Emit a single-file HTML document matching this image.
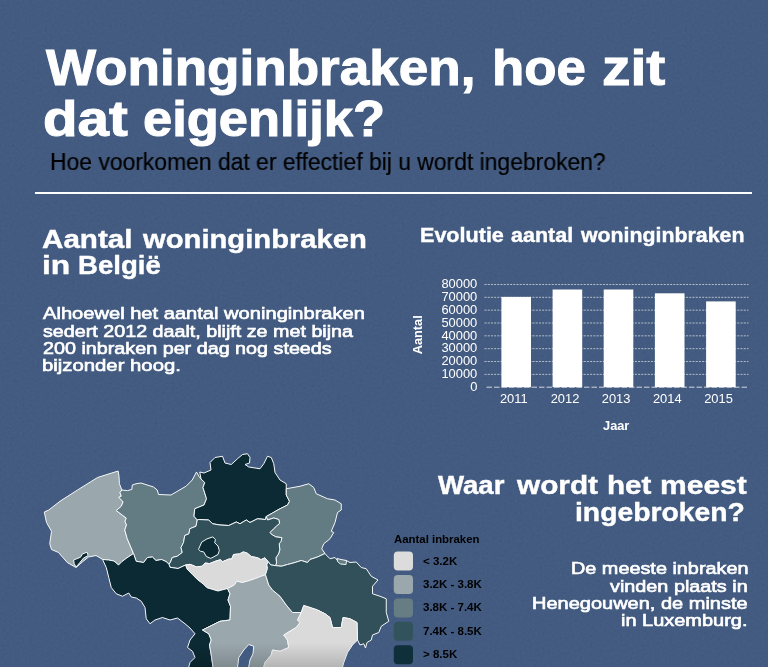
<!DOCTYPE html>
<html lang="nl"><head><meta charset="utf-8"><title>Woninginbraken</title>
<style>
html,body{margin:0;padding:0}
body{width:768px;height:667px;overflow:hidden;background:#38527a;position:relative;font-family:"Liberation Sans",sans-serif}
.t{position:absolute;white-space:nowrap;line-height:1;margin:0;font-weight:bold;color:#fff;transform-origin:0 0;will-change:transform}
#hr{position:absolute;left:35px;top:192px;width:716.5px;height:2px;background:#fff}
svg{position:absolute;left:0;top:0;will-change:transform}
.ax{font:12.9px "Liberation Sans",sans-serif;fill:#fff}
.axb{font:bold 12.8px "Liberation Sans",sans-serif;fill:#fff}
#x0{left:46.20px;top:43.05px;font-size:49.2px;-webkit-text-stroke:1px #fff;transform:scaleX(1.0788);}
#x1{left:491.53px;top:43.05px;font-size:49.2px;-webkit-text-stroke:1px #fff;transform:scaleX(1.0741);}
#x2{left:601.84px;top:43.05px;font-size:49.2px;-webkit-text-stroke:1px #fff;transform:scaleX(1.1594);}
#x3{left:43.20px;top:93.65px;font-size:49.2px;-webkit-text-stroke:1px #fff;transform:scaleX(1.1484);}
#x4{left:143.43px;top:93.65px;font-size:49.2px;-webkit-text-stroke:1px #fff;transform:scaleX(1.0667);}
#x5{left:50.23px;top:150.81px;font-size:23.5px;font-weight:normal;-webkit-text-stroke:0.2px #000;color:#000;transform:scaleX(0.9741);}
#x6{left:42.25px;top:226.66px;font-size:25.5px;-webkit-text-stroke:0.4px #fff;transform:scaleX(1.1614);}
#x7{left:143.40px;top:226.66px;font-size:25.5px;-webkit-text-stroke:0.4px #fff;transform:scaleX(1.1453);}
#x8{left:42.26px;top:253.01px;font-size:25.5px;-webkit-text-stroke:0.4px #fff;transform:scaleX(1.2447);}
#x9{left:77.92px;top:253.01px;font-size:25.5px;-webkit-text-stroke:0.4px #fff;transform:scaleX(1.0817);}
#x10{left:420.19px;top:224.57px;font-size:20.3px;-webkit-text-stroke:0.4px #fff;transform:scaleX(1.0630);}
#x11{left:510.50px;top:224.57px;font-size:20.3px;-webkit-text-stroke:0.4px #fff;transform:scaleX(1.0607);}
#x12{left:580.75px;top:224.57px;font-size:20.3px;-webkit-text-stroke:0.4px #fff;transform:scaleX(1.0509);}
#x13{left:42.75px;top:305.27px;font-size:17.4px;font-weight:normal;-webkit-text-stroke:0.65px #fff;transform:scaleX(1.1562);}
#x14{left:43.00px;top:322.52px;font-size:17.4px;font-weight:normal;-webkit-text-stroke:0.65px #fff;transform:scaleX(1.1332);}
#x15{left:42.75px;top:340.02px;font-size:17.4px;font-weight:normal;-webkit-text-stroke:0.65px #fff;transform:scaleX(1.1353);}
#x16{left:41.83px;top:357.02px;font-size:17.4px;font-weight:normal;-webkit-text-stroke:0.65px #fff;transform:scaleX(1.1679);}
#x17{left:438.00px;top:473.41px;font-size:25.5px;-webkit-text-stroke:0.4px #fff;transform:scaleX(1.0816);}
#x18{left:517.42px;top:473.41px;font-size:25.5px;-webkit-text-stroke:0.4px #fff;transform:scaleX(1.1670);}
#x19{left:607.24px;top:473.41px;font-size:25.5px;-webkit-text-stroke:0.4px #fff;transform:scaleX(1.1613);}
#x20{left:659.82px;top:473.41px;font-size:25.5px;-webkit-text-stroke:0.4px #fff;transform:scaleX(1.1780);}
#x21{left:574.99px;top:499.71px;font-size:25.5px;-webkit-text-stroke:0.4px #fff;transform:scaleX(1.1100);}
#x22{left:570.56px;top:560.47px;font-size:17.4px;font-weight:normal;-webkit-text-stroke:0.65px #fff;transform:scaleX(1.1406);}
#x23{left:610.40px;top:577.67px;font-size:17.4px;font-weight:normal;-webkit-text-stroke:0.65px #fff;transform:scaleX(1.1391);}
#x24{left:532.45px;top:595.17px;font-size:17.4px;font-weight:normal;-webkit-text-stroke:0.65px #fff;transform:scaleX(1.1497);}
#x25{left:621.45px;top:612.47px;font-size:17.4px;font-weight:normal;-webkit-text-stroke:0.65px #fff;transform:scaleX(1.1479);}
#x26{left:393.70px;top:533.95px;font-size:11.4px;color:#000;transform:scaleX(0.9954);}
#x27{left:423.20px;top:555.67px;font-size:11.5px;color:#000;}
#x28{left:423.20px;top:579.27px;font-size:11.5px;color:#000;}
#x29{left:423.20px;top:602.37px;font-size:11.5px;color:#000;}
#x30{left:423.20px;top:626.17px;font-size:11.5px;color:#000;}
#x31{left:423.20px;top:649.37px;font-size:11.5px;color:#000;}
</style></head><body>
<svg width="768" height="667" viewBox="0 0 768 667">
<defs><filter id="nz" x="0" y="0" width="100%" height="100%"><feTurbulence type="fractalNoise" baseFrequency="0.4" numOctaves="2" seed="7"/><feColorMatrix type="matrix" values="0.33 0.33 0.33 0 0 0.33 0.33 0.33 0 0 0.33 0.33 0.33 0 0 0 0 0 0 1"/></filter></defs>
<rect width="768" height="667" filter="url(#nz)" opacity="0.09"/>
<g id="map"><defs><clipPath id="mc"><path d="M102.5 559.4 L108.5 560 L114 561 L118.5 565 L122 561.5 L127 557.75 L133.5 553.5 L136.2 561.25 L143.6 562.5 L147.4 557.5 L152.4 557 L156 560.5 L161.5 559.5 L166 561.5 L169 564.3 L170 567.3 L178 568.5 L185.5 565 L187 569 L192.6 574.7 L197.8 579.9 L203 583.8 L206.9 587.7 L218 591 L227.5 588.5 L230 593.75 L228 600 L230.5 606.25 L230 620 L220 621.25 L210 626.25 L202.5 630 L208.75 633.75 L211.25 640 L209.5 645 L211.25 655 L213 667 L213.5 674 L188.5 674 L188.75 667 L190 662.5 L195 657.5 L192.5 651.25 L187.5 647.5 L190 640 L195 633.75 L190 628 L185 623.75 L177.5 618 L170 620 L162.5 617.5 L155 620 L150 623.75 L146.25 618.75 L145 607.5 L141.25 601.25 L136.25 598 L131.25 597 L128.75 593 L122.5 596.25 L116.25 593.75 L111.25 587.5 L108.75 577.5 L106.25 567.5Z"/><path d="M227.5 588.5 L229.1 587.7 L234.3 585.1 L236.9 581.2 L242.1 582.5 L247.3 581.2 L255.1 578.6 L260.3 576.6 L265.5 574.7 L268.75 585 L272.5 590 L280 596.25 L286.25 605 L292.5 612.5 L301.25 612.5 L297.5 620 L300 622.5 L296.25 627.5 L290 631.25 L283.75 635 L287.5 640 L288.75 647.5 L280 651.25 L272.5 650 L271.25 655 L265 662.5 L263.75 667 L263.5 674 L248.5 674 L248.75 667 L250 660 L253 653.75 L253.75 646.25 L248.75 644.5 L243.75 650 L238.75 657.5 L237.5 667 L237.3 674 L213.5 674 L213 667 L211.25 655 L209.5 645 L211.25 640 L208.75 633.75 L202.5 630 L210 626.25 L220 621.25 L230 620 L230.5 606.25 L228 600 L230 593.75Z"/><path d="M301.25 612.5 L303.75 605.5 L310 607.5 L317.5 610 L325 613.75 L330 617.5 L332.5 627.5 L341.25 627.5 L343 617.5 L350 618.75 L357 622.5 L357.5 640 L352.5 645 L347.5 652.5 L343.75 662.5 L342.5 667 L342 674 L263.5 674 L263.75 667 L265 662.5 L271.25 655 L272.5 650 L280 651.25 L288.75 647.5 L287.5 640 L283.75 635 L290 631.25 L296.25 627.5 L300 622.5 L297.5 620Z"/></clipPath><linearGradient id="fd" x1="0" y1="0" x2="0" y2="1"><stop offset="0" stop-color="#000" stop-opacity="0"/><stop offset="1" stop-color="#000" stop-opacity=".17"/></linearGradient></defs>
<g stroke="#f6f8f9" stroke-width="1" stroke-linejoin="round">
<path d="M102.5 559.4 L96 555.5 L88.5 557 L82.25 562 L76 567.5 L67.25 562.5 L58.5 552.5 L51.5 549.5 L49.75 543.75 L51.5 531.25 L46.5 522.5 L44.3 512 L48.75 510 L60 501.25 L77.5 490 L97.5 477.5 L118.1 471 L119 476.25 L119.4 483.75 L121.9 490 L120 492.5 L121.25 496.25 L118.75 497.25 L123.1 501.9 L121.25 506.25 L116.25 510.6 L126.25 518.1 L125 521.25 L126.5 525 L124.75 530 L127.25 538.75 L133.5 553.5 L127 557.75 L122 561.5 L118.5 565 L114 561 L108.5 560Z" fill="#9aa7ad"/>
<path d="M121.9 490 L127.5 490.6 L131.9 489.4 L132.25 485 L136 483.75 L141 483 L153.5 487 L157.25 490 L158.5 494.5 L171 495 L186 486.25 L192.25 480 L196.5 472 L199 476.5 L201 479 L204.75 482.5 L203 487.5 L206.5 498.75 L204 505 L194.75 508.75 L194 516.25 L197.25 520 L196 526.25 L189.75 528.75 L189 533.75 L184.75 535.5 L183.5 542.5 L181 547.5 L182.25 552.5 L177.25 556.25 L172.25 557.5 L170.5 562 L169 564.3 L166 561.5 L161.5 559.5 L156 560.5 L152.4 557 L147.4 557.5 L143.6 562.5 L136.2 561.25 L133.5 553.5 L127.25 538.75 L124.75 530 L126.5 525 L125 521.25 L126.25 518.1 L116.25 510.6 L121.25 506.25 L123.1 501.9 L118.75 497.25 L121.25 496.25 L120 492.5Z" fill="#637b82"/>
<path d="M201 479 L199.75 472 L204 473 L211 470 L210 462.5 L215 457.5 L222.5 456.25 L225 463 L231.25 464.5 L237.5 458.75 L242.5 454.5 L247.5 453.75 L250 457.5 L249.5 463 L245 464.5 L248.75 467 L260 468.75 L263.75 463.75 L267.5 456.25 L271.25 457.5 L273.75 463.75 L275 472.5 L280 480 L286.25 483.75 L286.25 488.75 L286.25 495 L289.5 501.25 L287.5 505 L280 508.75 L272.5 513 L266.25 516.5 L265.5 519.5 L257.5 518.75 L250 522.5 L246.25 520 L240 523.75 L236.25 522 L228.75 525.5 L220 525 L212.5 523.75 L208.75 520 L198.5 519.5 L197.25 520 L194 516.25 L194.75 508.75 L204 505 L206.5 498.75 L203 487.5 L204.75 482.5Z" fill="#0b2a34"/>
<path d="M286.25 488.75 L300 486.25 L308.75 483.75 L313.75 487.5 L316.25 493.75 L327.5 498.75 L335 500 L341.25 503.75 L341.25 510 L337.5 512.5 L335 522.5 L331.25 531.25 L333.75 532.5 L330 538.75 L323.75 543.75 L321.75 548.75 L325 553.5 L317.5 557 L310 559.5 L307.5 562.5 L301.25 560.5 L295 562.5 L287.5 564.5 L281.25 566.25 L275.3 565.6 L276.6 563 L275.9 557.8 L278.5 553.9 L279.8 549.9 L279.2 543.4 L281.1 541.5 L281.8 537.6 L275.9 536.9 L271.4 534.3 L270 532.4 L273.3 529.1 L276.6 525.9 L279.6 523.5 L278.75 519.5 L273.75 518 L267.5 520 L266.25 516.5 L272.5 513 L280 508.75 L287.5 505 L289.5 501.25 L286.25 495Z" fill="#637b82"/>
<path d="M197.25 520 L198.5 519.5 L208.75 520 L212.5 523.75 L220 525 L228.75 525.5 L236.25 522 L240 523.75 L246.25 520 L250 522.5 L257.5 518.75 L265.5 519.5 L266.25 516.5 L267.5 520 L273.75 518 L278.75 519.5 L279.6 523.5 L276.6 525.9 L273.3 529.1 L270 532.4 L271.4 534.3 L275.9 536.9 L281.8 537.6 L281.1 541.5 L279.2 543.4 L279.8 549.9 L278.5 553.9 L275.9 557.8 L276.6 563 L275.3 565.6 L270.7 564.9 L268 561.5 L264.9 557.8 L261 559.7 L257.7 557.8 L251.2 556.5 L247.3 553.2 L243.4 551.9 L239.5 553.9 L233.6 554.5 L231.7 559 L229 559 L222.5 561.7 L220.6 559.7 L216 561 L209.5 563.6 L205 563 L202.4 566.2 L196.5 566.9 L190 564.3 L185.5 565 L178 568.5 L170 567.3 L169 564.3 L170.5 562 L172.25 557.5 L177.25 556.25 L182.25 552.5 L181 547.5 L183.5 542.5 L184.75 535.5 L189 533.75 L189.75 528.75 L196 526.25Z" fill="#315059"/>
<path d="M185.5 565 L190 564.3 L196.5 566.9 L202.4 566.2 L205 563 L209.5 563.6 L216 561 L220.6 559.7 L222.5 561.7 L229 559 L231.7 559 L233.6 554.5 L239.5 553.9 L243.4 551.9 L247.3 553.2 L251.2 556.5 L257.7 557.8 L261 559.7 L264.9 557.8 L268 561.5 L266.8 564.9 L267.5 568.2 L265.5 574.7 L260.3 576.6 L255.1 578.6 L247.3 581.2 L242.1 582.5 L236.9 581.2 L234.3 585.1 L229.1 587.7 L227.5 588.5 L218 591 L206.9 587.7 L203 583.8 L197.8 579.9 L192.6 574.7 L187 569Z" fill="#dadada"/>
<path d="M102.5 559.4 L108.5 560 L114 561 L118.5 565 L122 561.5 L127 557.75 L133.5 553.5 L136.2 561.25 L143.6 562.5 L147.4 557.5 L152.4 557 L156 560.5 L161.5 559.5 L166 561.5 L169 564.3 L170 567.3 L178 568.5 L185.5 565 L187 569 L192.6 574.7 L197.8 579.9 L203 583.8 L206.9 587.7 L218 591 L227.5 588.5 L230 593.75 L228 600 L230.5 606.25 L230 620 L220 621.25 L210 626.25 L202.5 630 L208.75 633.75 L211.25 640 L209.5 645 L211.25 655 L213 667 L213.5 674 L188.5 674 L188.75 667 L190 662.5 L195 657.5 L192.5 651.25 L187.5 647.5 L190 640 L195 633.75 L190 628 L185 623.75 L177.5 618 L170 620 L162.5 617.5 L155 620 L150 623.75 L146.25 618.75 L145 607.5 L141.25 601.25 L136.25 598 L131.25 597 L128.75 593 L122.5 596.25 L116.25 593.75 L111.25 587.5 L108.75 577.5 L106.25 567.5Z" fill="#0b2a34"/>
<path d="M227.5 588.5 L229.1 587.7 L234.3 585.1 L236.9 581.2 L242.1 582.5 L247.3 581.2 L255.1 578.6 L260.3 576.6 L265.5 574.7 L268.75 585 L272.5 590 L280 596.25 L286.25 605 L292.5 612.5 L301.25 612.5 L297.5 620 L300 622.5 L296.25 627.5 L290 631.25 L283.75 635 L287.5 640 L288.75 647.5 L280 651.25 L272.5 650 L271.25 655 L265 662.5 L263.75 667 L263.5 674 L248.5 674 L248.75 667 L250 660 L253 653.75 L253.75 646.25 L248.75 644.5 L243.75 650 L238.75 657.5 L237.5 667 L237.3 674 L213.5 674 L213 667 L211.25 655 L209.5 645 L211.25 640 L208.75 633.75 L202.5 630 L210 626.25 L220 621.25 L230 620 L230.5 606.25 L228 600 L230 593.75Z" fill="#9aa7ad"/>
<path d="M275.3 565.6 L281.25 566.25 L287.5 564.5 L295 562.5 L301.25 560.5 L307.5 562.5 L310 559.5 L317.5 557 L325 553.5 L326.25 555 L330 558.75 L335 557.5 L337.5 560.5 L346.25 560.5 L350 562.5 L356.25 562 L361.25 567.5 L366.25 568.75 L371.25 576.25 L378 580 L372.5 586.25 L372.5 593.75 L380 596.25 L386.25 598.75 L386.25 612.5 L388.75 621.25 L381.25 626.25 L378.75 632.5 L372.5 635 L371.25 640 L367 642.5 L365.5 648 L363.75 643.75 L360 645 L357.5 640 L357 622.5 L350 618.75 L343 617.5 L341.25 627.5 L332.5 627.5 L330 617.5 L325 613.75 L317.5 610 L310 607.5 L303.75 605.5 L301.25 612.5 L292.5 612.5 L286.25 605 L280 596.25 L272.5 590 L268.75 585 L265.5 574.7 L267.5 568.2 L266.8 564.9 L268 561.5 L270.7 564.9Z" fill="#315059"/>
<path d="M301.25 612.5 L303.75 605.5 L310 607.5 L317.5 610 L325 613.75 L330 617.5 L332.5 627.5 L341.25 627.5 L343 617.5 L350 618.75 L357 622.5 L357.5 640 L352.5 645 L347.5 652.5 L343.75 662.5 L342.5 667 L342 674 L263.5 674 L263.75 667 L265 662.5 L271.25 655 L272.5 650 L280 651.25 L288.75 647.5 L287.5 640 L283.75 635 L290 631.25 L296.25 627.5 L300 622.5 L297.5 620Z" fill="#dadada"/>
<path d="M198.5 549.3 L201.7 542.1 L206.9 538.9 L212.8 536.9 L215.4 539.5 L214.7 542.8 L218 546 L219.3 550.6 L218 554.5 L210.8 558.4 L206.3 556.5 L203.7 551.9 L200.4 551.25Z" fill="#0b2a34"/>
<path d="M337 558.5 L341 559.5 L346.5 560.5 L346 564.5 L340.5 564 L337.5 561.5Z" fill="#637b82"/>
<path d="M73.6 560 L80.5 557.2 L82.4 554 L87 552.2 L88.2 555.5 L83.6 558 L79.9 562.5 L76.1 567 L74.2 563.75Z" fill="#0b2a34"/>
</g>
<rect x="150" y="643" width="220" height="24" fill="url(#fd)" clip-path="url(#mc)"/></g>
<g id="chart">
<line x1="486.5" x2="748.5" y1="387.20" y2="387.20" stroke="#fff" stroke-opacity=".75" stroke-width="1" stroke-dasharray="5.5 2"/>
<text x="477.3" y="391.00" text-anchor="end" class="ax">0</text>
<line x1="484.5" x2="748.5" y1="374.36" y2="374.36" stroke="#fff" stroke-opacity=".6" stroke-width="1" stroke-dasharray="2 1.2"/>
<text x="477.3" y="378.16" text-anchor="end" class="ax">10000</text>
<line x1="484.5" x2="748.5" y1="361.52" y2="361.52" stroke="#fff" stroke-opacity=".6" stroke-width="1" stroke-dasharray="2 1.2"/>
<text x="477.3" y="365.32" text-anchor="end" class="ax">20000</text>
<line x1="484.5" x2="748.5" y1="348.68" y2="348.68" stroke="#fff" stroke-opacity=".6" stroke-width="1" stroke-dasharray="2 1.2"/>
<text x="477.3" y="352.48" text-anchor="end" class="ax">30000</text>
<line x1="484.5" x2="748.5" y1="335.84" y2="335.84" stroke="#fff" stroke-opacity=".6" stroke-width="1" stroke-dasharray="2 1.2"/>
<text x="477.3" y="339.64" text-anchor="end" class="ax">40000</text>
<line x1="484.5" x2="748.5" y1="323.00" y2="323.00" stroke="#fff" stroke-opacity=".6" stroke-width="1" stroke-dasharray="2 1.2"/>
<text x="477.3" y="326.80" text-anchor="end" class="ax">50000</text>
<line x1="484.5" x2="748.5" y1="310.16" y2="310.16" stroke="#fff" stroke-opacity=".6" stroke-width="1" stroke-dasharray="2 1.2"/>
<text x="477.3" y="313.96" text-anchor="end" class="ax">60000</text>
<line x1="484.5" x2="748.5" y1="297.32" y2="297.32" stroke="#fff" stroke-opacity=".6" stroke-width="1" stroke-dasharray="2 1.2"/>
<text x="477.3" y="301.12" text-anchor="end" class="ax">70000</text>
<line x1="484.5" x2="748.5" y1="284.48" y2="284.48" stroke="#fff" stroke-opacity=".6" stroke-width="1" stroke-dasharray="2 1.2"/>
<text x="477.3" y="288.28" text-anchor="end" class="ax">80000</text>
<rect x="501.4" y="296.9" width="29.6" height="90.30" fill="#fff"/>
<text x="513.8" y="403.3" text-anchor="middle" class="ax">2011</text>
<rect x="552.6" y="289.5" width="29.6" height="97.70" fill="#fff"/>
<text x="565.0" y="403.3" text-anchor="middle" class="ax">2012</text>
<rect x="603.7" y="289.5" width="29.6" height="97.70" fill="#fff"/>
<text x="616.1" y="403.3" text-anchor="middle" class="ax">2013</text>
<rect x="654.9" y="293.3" width="29.6" height="93.90" fill="#fff"/>
<text x="667.3" y="403.3" text-anchor="middle" class="ax">2014</text>
<rect x="706.1" y="301.4" width="29.6" height="85.80" fill="#fff"/>
<text x="718.5" y="403.3" text-anchor="middle" class="ax">2015</text>
<text x="616.2" y="430" text-anchor="middle" class="axb">Jaar</text>
<text transform="translate(421.5,334.8) rotate(-90)" text-anchor="middle" class="axb">Aantal</text>
</g>
<g id="legend">
<rect x="393.8" y="551.6" width="19.2" height="19" rx="4" fill="#dcdcdc"/>
<rect x="393.8" y="575.0" width="19.2" height="19" rx="4" fill="#9aa8ae"/>
<rect x="393.8" y="598.4" width="19.2" height="19" rx="4" fill="#667d83"/>
<rect x="393.8" y="621.8" width="19.2" height="19" rx="4" fill="#33535c"/>
<rect x="393.8" y="645.2" width="19.2" height="19" rx="4" fill="#0f2f3a"/>
</g>
</svg>
<div id="hr"></div>
<div class="t" id="x0">Woninginbraken,</div>
<div class="t" id="x1">hoe</div>
<div class="t" id="x2">zit</div>
<div class="t" id="x3">dat</div>
<div class="t" id="x4">eigenlijk?</div>
<div class="t" id="x5">Hoe voorkomen dat er effectief bij u wordt ingebroken?</div>
<div class="t" id="x6">Aantal</div>
<div class="t" id="x7">woninginbraken</div>
<div class="t" id="x8">in</div>
<div class="t" id="x9">België</div>
<div class="t" id="x10">Evolutie</div>
<div class="t" id="x11">aantal</div>
<div class="t" id="x12">woninginbraken</div>
<div class="t" id="x13">Alhoewel het aantal woninginbraken</div>
<div class="t" id="x14">sedert 2012 daalt, blijft ze met bijna</div>
<div class="t" id="x15">200 inbraken per dag nog steeds</div>
<div class="t" id="x16">bijzonder hoog.</div>
<div class="t" id="x17">Waar</div>
<div class="t" id="x18">wordt</div>
<div class="t" id="x19">het</div>
<div class="t" id="x20">meest</div>
<div class="t" id="x21">ingebroken?</div>
<div class="t" id="x22">De meeste inbraken</div>
<div class="t" id="x23">vinden plaats in</div>
<div class="t" id="x24">Henegouwen, de minste</div>
<div class="t" id="x25">in Luxemburg.</div>
<div class="t" id="x26">Aantal inbraken</div>
<div class="t" id="x27">&lt; 3.2K</div>
<div class="t" id="x28">3.2K - 3.8K</div>
<div class="t" id="x29">3.8K - 7.4K</div>
<div class="t" id="x30">7.4K - 8.5K</div>
<div class="t" id="x31">&gt; 8.5K</div>
</body></html>
